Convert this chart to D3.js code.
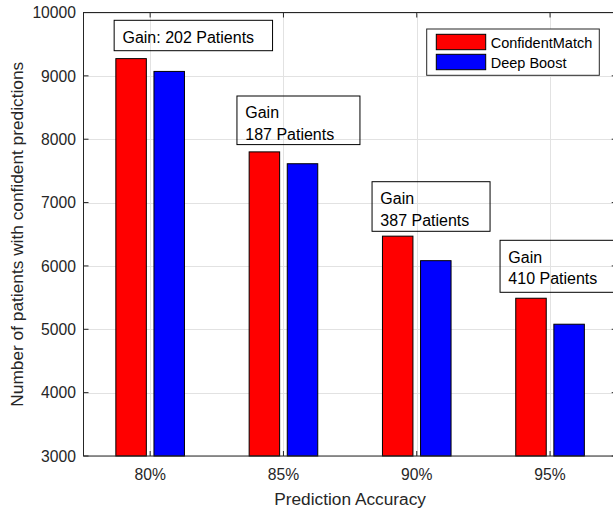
<!DOCTYPE html>
<html>
<head>
<meta charset="utf-8">
<script src="https://cdn.jsdelivr.net/npm/d3@7"></script>
<style>
  html, body { margin: 0; padding: 0; background: #fff; }
  svg { display: block; font-family: "Liberation Sans", Arial, Helvetica, sans-serif; }
</style>
</head>
<body>
<svg id="chart" width="613" height="510"></svg>
<script>
// ---- data ----
const categories = ["80%", "85%", "90%", "95%"];
const seriesNames = ["ConfidentMatch", "Deep Boost"];
const confidentMatch = [9272, 7800, 6470, 5490];
const deepBoost = [9070, 7613, 6083, 5080];
const yTicks = [3000, 4000, 5000, 6000, 7000, 8000, 9000, 10000];
const xLabel = "Prediction Accuracy";
const yLabel = "Number of patients with confident predictions";

// ---- layout ----
const colors = ["#ff0000", "#0000ff"];
const L = 83.5, T = 12.5, B = 456, R = 616.7;
const svg = d3.select("#chart");

const x = d3.scaleBand().domain(categories).range([L, R]).padding(0);
const x1 = d3.scaleBand().domain(seriesNames).range([-34.3, 34.3]).paddingInner(0.2).paddingOuter(0);
const y = d3.scaleLinear().domain([3000, 10000]).range([B, T]);
const cx = c => x(c) + x.bandwidth() / 2;

const axisColor = "#262626";
const gridColor = "#e2e2e2";

// grid
const grid = svg.append("g");
yTicks.forEach(t => grid.append("line").attr("x1", L).attr("x2", R)
  .attr("y1", Math.round(y(t)) + 0.5).attr("y2", Math.round(y(t)) + 0.5)
  .attr("stroke", gridColor).attr("stroke-width", 1));
categories.forEach(c => grid.append("line").attr("y1", T).attr("y2", B)
  .attr("x1", Math.round(cx(c)) + 0.5).attr("x2", Math.round(cx(c)) + 0.5)
  .attr("stroke", gridColor).attr("stroke-width", 1));

// bars
const seriesVals = [confidentMatch, deepBoost];
seriesNames.forEach((s, si) => {
  svg.append("g").selectAll("rect").data(categories).join("rect")
    .attr("x", c => cx(c) + x1(s))
    .attr("y", (c, i) => y(seriesVals[si][i]))
    .attr("width", x1.bandwidth())
    .attr("height", (c, i) => B - y(seriesVals[si][i]))
    .attr("fill", colors[si])
    .attr("stroke", "#000").attr("stroke-width", 1);
});

// axes (box with inward ticks)
const ax = svg.append("g").attr("stroke", axisColor).attr("stroke-width", 1).attr("fill", "none");
ax.append("rect").attr("x", L).attr("y", T).attr("width", R - L).attr("height", B - T);
const tl = 5;
yTicks.forEach(t => {
  const yy = y(t);
  ax.append("line").attr("x1", L).attr("x2", L + tl).attr("y1", yy).attr("y2", yy);
  ax.append("line").attr("x1", R).attr("x2", R - tl).attr("y1", yy).attr("y2", yy);
});
categories.forEach(c => {
  const xx = cx(c);
  ax.append("line").attr("x1", xx).attr("x2", xx).attr("y1", B).attr("y2", B - tl);
  ax.append("line").attr("x1", xx).attr("x2", xx).attr("y1", T).attr("y2", T + tl);
});

// tick labels
const tickFont = 15.7;
svg.append("g").selectAll("text").data(yTicks).join("text")
  .attr("x", L - 7.5).attr("y", d => y(d)).attr("dy", "0.36em")
  .attr("text-anchor", "end").attr("font-size", tickFont).attr("fill", axisColor)
  .text(d => d);
svg.append("g").selectAll("text").data(categories).join("text")
  .attr("x", d => cx(d)).attr("y", B + 24)
  .attr("text-anchor", "middle").attr("font-size", tickFont).attr("fill", axisColor)
  .text(d => d);

// axis labels
svg.append("text").attr("x", (L + R) / 2).attr("y", 505)
  .attr("text-anchor", "middle").attr("font-size", 17.3).attr("fill", axisColor)
  .text(xLabel);
svg.append("text").attr("transform", `translate(22.7,${(T + B) / 2}) rotate(-90)`)
  .attr("text-anchor", "middle").attr("font-size", 17.3).attr("fill", axisColor)
  .text(yLabel);

// legend
const lg = svg.append("g");
lg.append("rect").attr("x", 426.7).attr("y", 29).attr("width", 172.6).attr("height", 46.3)
  .attr("fill", "#fff").attr("stroke", axisColor).attr("stroke-width", 1);
seriesNames.forEach((s, i) => {
  lg.append("rect").attr("x", 436.3).attr("y", 34.3 + i * 20).attr("width", 49.4).attr("height", 15.4)
    .attr("fill", colors[i]).attr("stroke", "#000").attr("stroke-width", 1);
  lg.append("text").attr("x", 490.7).attr("y", 48.3 + i * 20)
    .attr("font-size", 14.5).attr("fill", "#000").text(s);
});

// annotations (gains computed from data)
const gains = confidentMatch.map((v, i) => v - deepBoost[i]);
const annotLayout = [
  { dx: -36, top: 20.3, w: 158.4, h: 30.4 },
  { dx: -46.5, top: 96, w: 123, h: 48.6 },
  { dx: -44.7, top: 181.7, w: 118, h: 49.6 },
  { dx: -50, top: 240.3, w: 125, h: 52 }
];
categories.forEach((c, i) => {
  const a = annotLayout[i];
  const lines = i === 0 ? [`Gain: ${gains[i]} Patients`] : ["Gain", `${gains[i]} Patients`];
  const g = svg.append("g");
  const bx = cx(c) + a.dx;
  g.append("rect").attr("x", bx).attr("y", a.top).attr("width", a.w).attr("height", a.h)
    .attr("fill", "none").attr("stroke", "#000").attr("stroke-width", 1);
  lines.forEach((t, j) => g.append("text")
    .attr("x", bx + 8.3).attr("y", a.top + 22.4 + j * 21.6)
    .attr("font-size", 16).attr("fill", "#000").text(t));
});
</script>
</body>
</html>
